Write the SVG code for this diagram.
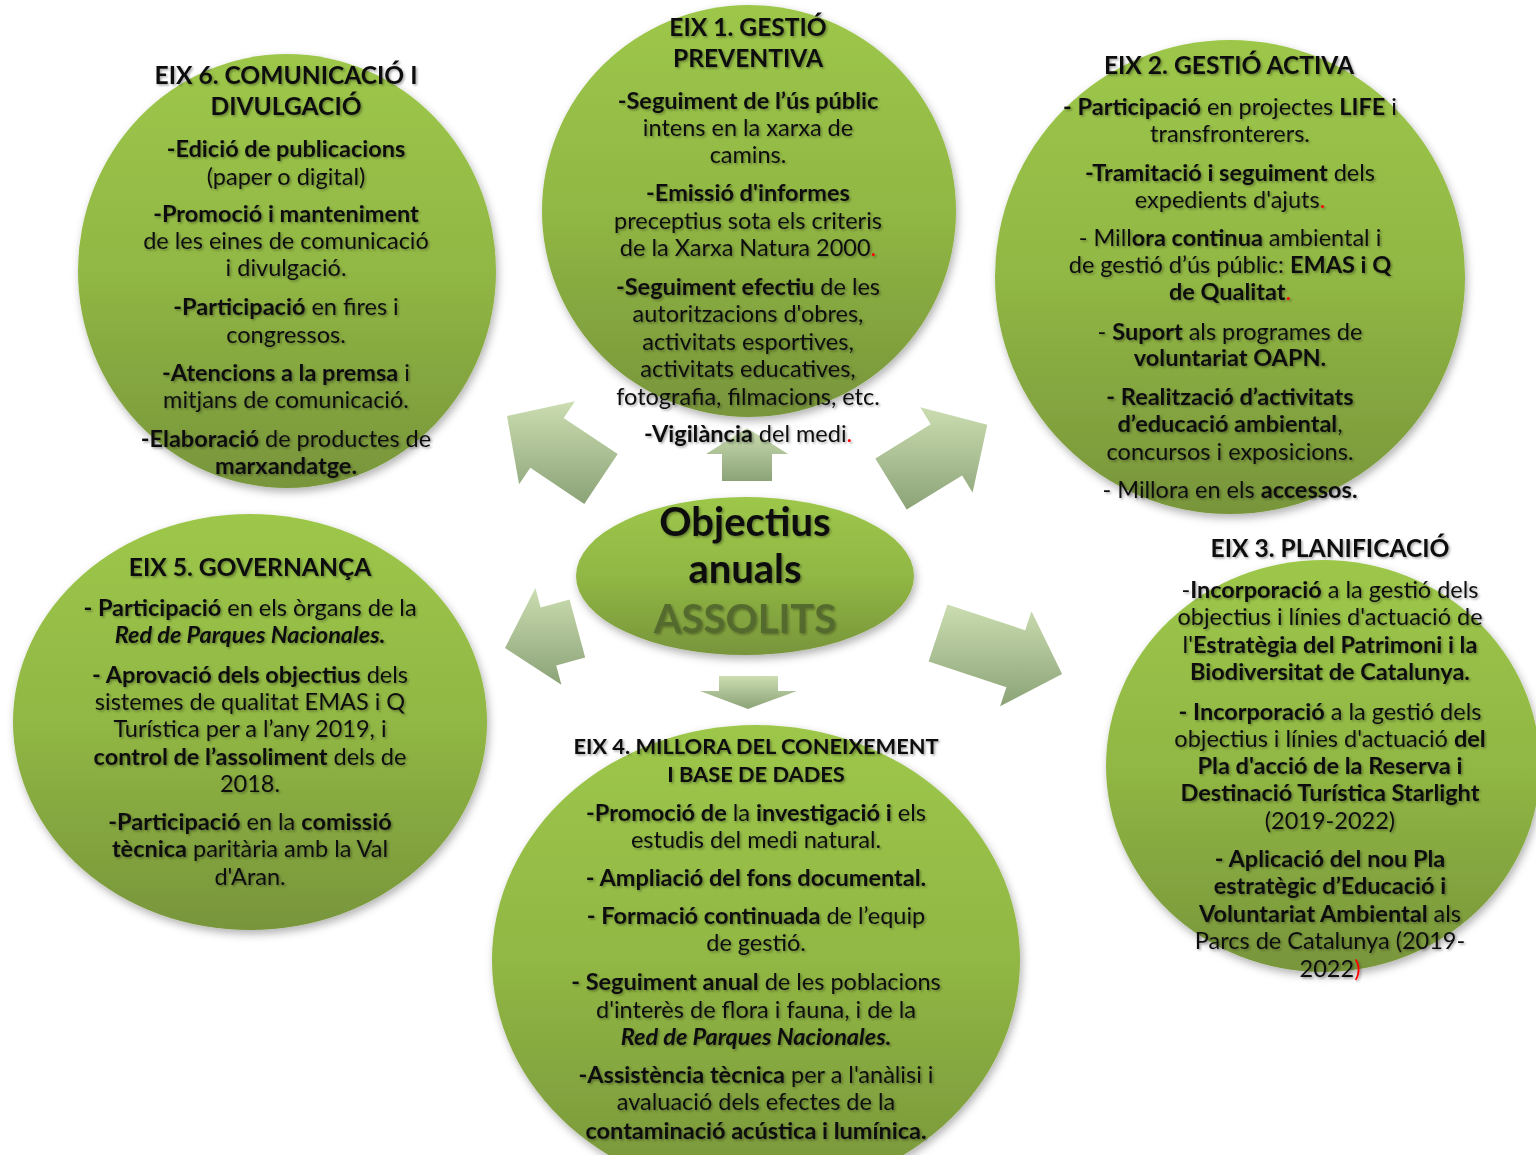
<svg xmlns="http://www.w3.org/2000/svg" width="1536" height="1155" viewBox="0 0 1536 1155">
<defs>
<linearGradient id="gGreen" x1="0" y1="0" x2="0" y2="1">
<stop offset="0" stop-color="#9dc74a"/>
<stop offset="0.5" stop-color="#91b744"/>
<stop offset="1" stop-color="#78953b"/>
</linearGradient>
<linearGradient id="gArrow" x1="0" y1="0" x2="0" y2="1">
<stop offset="0" stop-color="#cbddb1"/>
<stop offset="1" stop-color="#8ba377"/>
</linearGradient>
<filter id="sh" x="-10%" y="-10%" width="120%" height="125%">
<feDropShadow dx="2" dy="4" stdDeviation="4" flood-color="#000" flood-opacity="0.3"/>
</filter>
<filter id="tsh" x="-5%" y="-20%" width="110%" height="150%">
<feDropShadow dx="1.5" dy="1.5" stdDeviation="1.3" flood-color="#000" flood-opacity="0.35"/>
</filter>
</defs>
<style>
text{font-family:Lato,"Open Sans","Liberation Sans",sans-serif;fill:#111;text-anchor:middle}
.t{font-size:23.5px}
.h{font-size:24.6px;font-weight:bold}
.hs{font-size:21.8px;font-weight:bold}
.b{font-weight:bold}
.i{font-style:italic}
.r{fill:#ff0000}
.node{fill:url(#gGreen);filter:url(#sh)}
.arr{fill:url(#gArrow)}
.txt{filter:url(#tsh)}
.c1{font-size:40px;font-weight:bold}
.as{fill:#51662b;fill-opacity:0.9}
</style>

<g id="connectors">
<polygon class="arr" points="584.3,503.9 530.3,467.7 519.1,484.3 507,416 574.9,401.3 563.7,417.9 617.7,454.1"/>
<polygon class="arr" points="722,481 722,454 706,454 747,428 788,454 772,454 772,481"/>
<polygon class="arr" points="875.3,458.4 930.7,424.3 920.2,407.3 987.3,424.8 972.6,492.5 962.1,475.5 906.7,509.6"/>
<polygon class="arr" points="585.2,657.6 556.2,665.4 561.4,684.7 505,648 535.4,588.1 540.6,607.4 569.6,599.6"/>
<polygon class="arr" points="947.4,604.5 1025.2,630.2 1031.5,611.2 1062.1,674.1 1000.1,706.2 1006.4,687.2 928.6,661.5"/>
<polygon class="arr" points="719,676 778,676 778,691 797,691 748,709 700,691 719,691"/>
</g>

<g id="center">
<ellipse class="node" cx="745" cy="576" rx="169" ry="79"/>
<g class="txt">
<text class="c1" x="745" y="536">Objectius</text>
<text class="c1" x="745" y="583">anuals</text>
<text class="c1 as" x="745" y="633">ASSOLITS</text>
</g>
</g>

<g id="eix6">
<ellipse class="node" cx="287" cy="271" rx="209" ry="217"/>
<g class="txt">
<text class="h" x="286" y="84">EIX 6. COMUNICACIÓ I</text>
<text class="h" x="286" y="115">DIVULGACIÓ</text>
<text class="t" x="286" y="157"><tspan class="b">-Edició de publicacions</tspan></text>
<text class="t" x="286" y="185">(paper o digital)</text>
<text class="t" x="286" y="222"><tspan class="b">-Promoció i manteniment</tspan></text>
<text class="t" x="286" y="249">de les eines de comunicació</text>
<text class="t" x="286" y="276">i divulgació.</text>
<text class="t" x="286" y="315"><tspan class="b">-Participació</tspan> en fires i</text>
<text class="t" x="286" y="343">congressos.</text>
<text class="t" x="286" y="381"><tspan class="b">-Atencions a la premsa</tspan> i</text>
<text class="t" x="286" y="408">mitjans de comunicació.</text>
<text class="t" x="286" y="447"><tspan class="b">-Elaboració</tspan> de productes de</text>
<text class="t" x="286" y="474"><tspan class="b">marxandatge.</tspan></text>
</g>
</g>

<g id="eix1">
<ellipse class="node" cx="749" cy="211" rx="207" ry="206"/>
<g class="txt">
<text class="h" x="748" y="36">EIX 1. GESTIÓ</text>
<text class="h" x="748" y="67">PREVENTIVA</text>
<text class="t" x="748" y="109"><tspan class="b">-Seguiment de l’ús públic</tspan></text>
<text class="t" x="748" y="136">intens en la xarxa de</text>
<text class="t" x="748" y="163">camins.</text>
<text class="t" x="748" y="201"><tspan class="b">-Emissió d'informes</tspan></text>
<text class="t" x="748" y="229">preceptius sota els criteris</text>
<text class="t" x="748" y="256">de la Xarxa Natura 2000<tspan class="r">.</tspan></text>
<text class="t" x="748" y="295"><tspan class="b">-Seguiment efectiu</tspan> de les</text>
<text class="t" x="748" y="322">autoritzacions d'obres,</text>
<text class="t" x="748" y="350">activitats esportives,</text>
<text class="t" x="748" y="377">activitats educatives,</text>
<text class="t" x="748" y="405">fotografia, filmacions, etc.</text>
<text class="t" x="748" y="442"><tspan class="b">-Vigilància</tspan> del medi<tspan class="r">.</tspan></text>
</g>
</g>

<g id="eix2">
<ellipse class="node" cx="1230" cy="277" rx="235" ry="237"/>
<g class="txt">
<text class="h" x="1229" y="74">EIX 2. GESTIÓ ACTIVA</text>
<text class="t" x="1230" y="115"><tspan class="b">- Participació</tspan> en projectes <tspan class="b">LIFE</tspan> i</text>
<text class="t" x="1230" y="142">transfronterers.</text>
<text class="t" x="1230" y="181"><tspan class="b">-Tramitació i seguiment</tspan> dels</text>
<text class="t" x="1230" y="208">expedients d'ajuts<tspan class="r">.</tspan></text>
<text class="t" x="1230" y="246">- Mill<tspan class="b">ora continua</tspan> ambiental i</text>
<text class="t" x="1230" y="273">de gestió d’ús públic: <tspan class="b">EMAS i Q</tspan></text>
<text class="t" x="1230" y="300"><tspan class="b">de Qualitat</tspan><tspan class="r">.</tspan></text>
<text class="t" x="1230" y="340">- <tspan class="b">Suport</tspan> als programes de</text>
<text class="t" x="1230" y="366"><tspan class="b">voluntariat OAPN.</tspan></text>
<text class="t" x="1230" y="405"><tspan class="b">- Realització d’activitats</tspan></text>
<text class="t" x="1230" y="432"><tspan class="b">d’educació ambiental</tspan>,</text>
<text class="t" x="1230" y="460">concursos i exposicions.</text>
<text class="t" x="1230" y="498">- Millora en els <tspan class="b">accessos.</tspan></text>
</g>
</g>

<g id="eix5">
<ellipse class="node" cx="250" cy="722" rx="237" ry="208"/>
<g class="txt">
<text class="h" x="250" y="576">EIX 5. GOVERNANÇA</text>
<text class="t" x="250" y="616"><tspan class="b">- Participació</tspan> en els òrgans de la</text>
<text class="t" x="250" y="643"><tspan class="b i">Red de Parques Nacionales.</tspan></text>
<text class="t" x="250" y="683"><tspan class="b">- Aprovació dels objectius</tspan> dels</text>
<text class="t" x="250" y="710">sistemes de qualitat EMAS i Q</text>
<text class="t" x="250" y="737">Turística per a l’any 2019, i</text>
<text class="t" x="250" y="765"><tspan class="b">control  de l’assoliment</tspan> dels de</text>
<text class="t" x="250" y="792">2018.</text>
<text class="t" x="250" y="830"><tspan class="b">-Participació</tspan> en la <tspan class="b">comissió</tspan></text>
<text class="t" x="250" y="857"><tspan class="b">tècnica</tspan> paritària amb la Val</text>
<text class="t" x="250" y="885">d'Aran.</text>
</g>
</g>

<g id="eix3">
<ellipse class="node" cx="1323" cy="766" rx="217" ry="206"/>
<g class="txt">
<text class="h" x="1330" y="557">EIX 3. PLANIFICACIÓ</text>
<text class="t" x="1330" y="598">-<tspan class="b">Incorporació</tspan> a la gestió dels</text>
<text class="t" x="1330" y="625">objectius i línies d'actuació de</text>
<text class="t" x="1330" y="653">l'<tspan class="b">Estratègia del Patrimoni i la</tspan></text>
<text class="t" x="1330" y="680"><tspan class="b">Biodiversitat de Catalunya.</tspan></text>
<text class="t" x="1330" y="720"><tspan class="b">- Incorporació</tspan> a la gestió dels</text>
<text class="t" x="1330" y="747">objectius i línies d'actuació <tspan class="b">del</tspan></text>
<text class="t" x="1330" y="774"><tspan class="b">Pla d'acció de la Reserva i</tspan></text>
<text class="t" x="1330" y="801"><tspan class="b">Destinació Turística Starlight</tspan></text>
<text class="t" x="1330" y="829">(2019-2022)</text>
<text class="t" x="1330" y="867"><tspan class="b">- Aplicació del nou Pla</tspan></text>
<text class="t" x="1330" y="894"><tspan class="b">estratègic d’Educació i</tspan></text>
<text class="t" x="1330" y="922"><tspan class="b">Voluntariat Ambiental</tspan> als</text>
<text class="t" x="1330" y="949">Parcs de Catalunya (2019-</text>
<text class="t" x="1330" y="977">2022<tspan class="r">)</tspan></text>
</g>
</g>

<g id="eix4">
<ellipse class="node" cx="756" cy="960" rx="264" ry="235"/>
<g class="txt">
<text class="hs" x="756" y="754">EIX 4. MILLORA DEL CONEIXEMENT</text>
<text class="hs" x="756" y="782">I BASE DE DADES</text>
<text class="t" x="756" y="821"><tspan class="b">-Promoció de</tspan> la <tspan class="b">investigació i</tspan> els</text>
<text class="t" x="756" y="848">estudis del medi natural.</text>
<text class="t" x="756" y="886"><tspan class="b">- Ampliació del fons documental.</tspan></text>
<text class="t" x="756" y="924"><tspan class="b">- Formació continuada</tspan> de l’equip</text>
<text class="t" x="756" y="951">de gestió.</text>
<text class="t" x="756" y="990"><tspan class="b">- Seguiment anual</tspan> de les poblacions</text>
<text class="t" x="756" y="1018">d'interès de flora  i fauna, i de la</text>
<text class="t" x="756" y="1045"><tspan class="b i">Red de Parques Nacionales.</tspan></text>
<text class="t" x="756" y="1083"><tspan class="b">-Assistència tècnica</tspan> per a l'anàlisi i</text>
<text class="t" x="756" y="1110">avaluació dels efectes de la</text>
<text class="t" x="756" y="1139"><tspan class="b">contaminació acústica i lumínica.</tspan></text>
</g>
</g>
</svg>
